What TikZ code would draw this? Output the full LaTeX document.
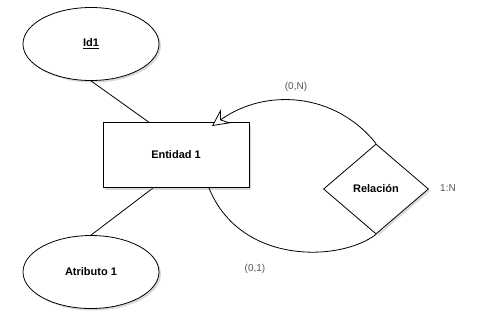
\documentclass[tikz,border=0pt]{standalone}
\usepackage{fontspec}
\setmainfont{Liberation Sans}
\usetikzlibrary{shapes.geometric,arrows.meta,shadows}
\definecolor{lblgray}{HTML}{555555}
\begin{document}
\begin{tikzpicture}[x=1pt,y=-1pt,
  shd/.style={drop shadow={shadow xshift=2pt,shadow yshift=-2pt,opacity=0.3,fill=black!50}},
  attr/.style={ellipse,draw,line width=0.8pt,fill=white,shd,minimum width=136pt,minimum height=73pt,inner sep=0pt,font=\fontsize{11}{13}\selectfont\bfseries},
  ent/.style={rectangle,draw,line width=0.8pt,fill=white,shd,minimum width=146pt,minimum height=65pt,inner sep=0pt,font=\fontsize{11}{13}\selectfont\bfseries},
  rel/.style={diamond,draw,line width=0.8pt,fill=white,shd,minimum width=105pt,minimum height=90pt,inner sep=0pt,font=\fontsize{11}{13}\selectfont\bfseries},
  lbl/.style={text=lblgray,font=\fontsize{10}{12}\selectfont,inner sep=0pt},
  conn/.style={line width=0.8pt}
]
\useasboundingbox (0,0) rectangle (486,330);
\coordinate (a1) at (150,123);
\coordinate (a2) at (153,188);
\coordinate (b1) at (209,188);
\coordinate (t1) at (212,126);
\node[attr] (id) at (91,44) {\underline{Id1}};
\node[attr] (at) at (91,272) {Atributo 1};
\draw[conn] (id.south) -- (a1);
\draw[conn] (at.north) -- (a2);
\node[ent] (e) at (176,155) {Entidad 1};
\node[rel] (r) at (376,189) {Relación};
\draw[conn,-{Stealth[length=17pt,width=17pt,inset=6pt,fill=white,line width=0.8pt]}] (r.north) .. controls (335,92) and (265,88) .. (t1);
\draw[conn] (b1) .. controls (240,265) and (340,262) .. (r.south);
\node[lbl] (l1) at (296,87) {(0,N)};
\node[lbl] (l2) at (448,188) {1:N};
\node[lbl] (l3) at (255,269) {(0,1)};
\end{tikzpicture}
\end{document}
